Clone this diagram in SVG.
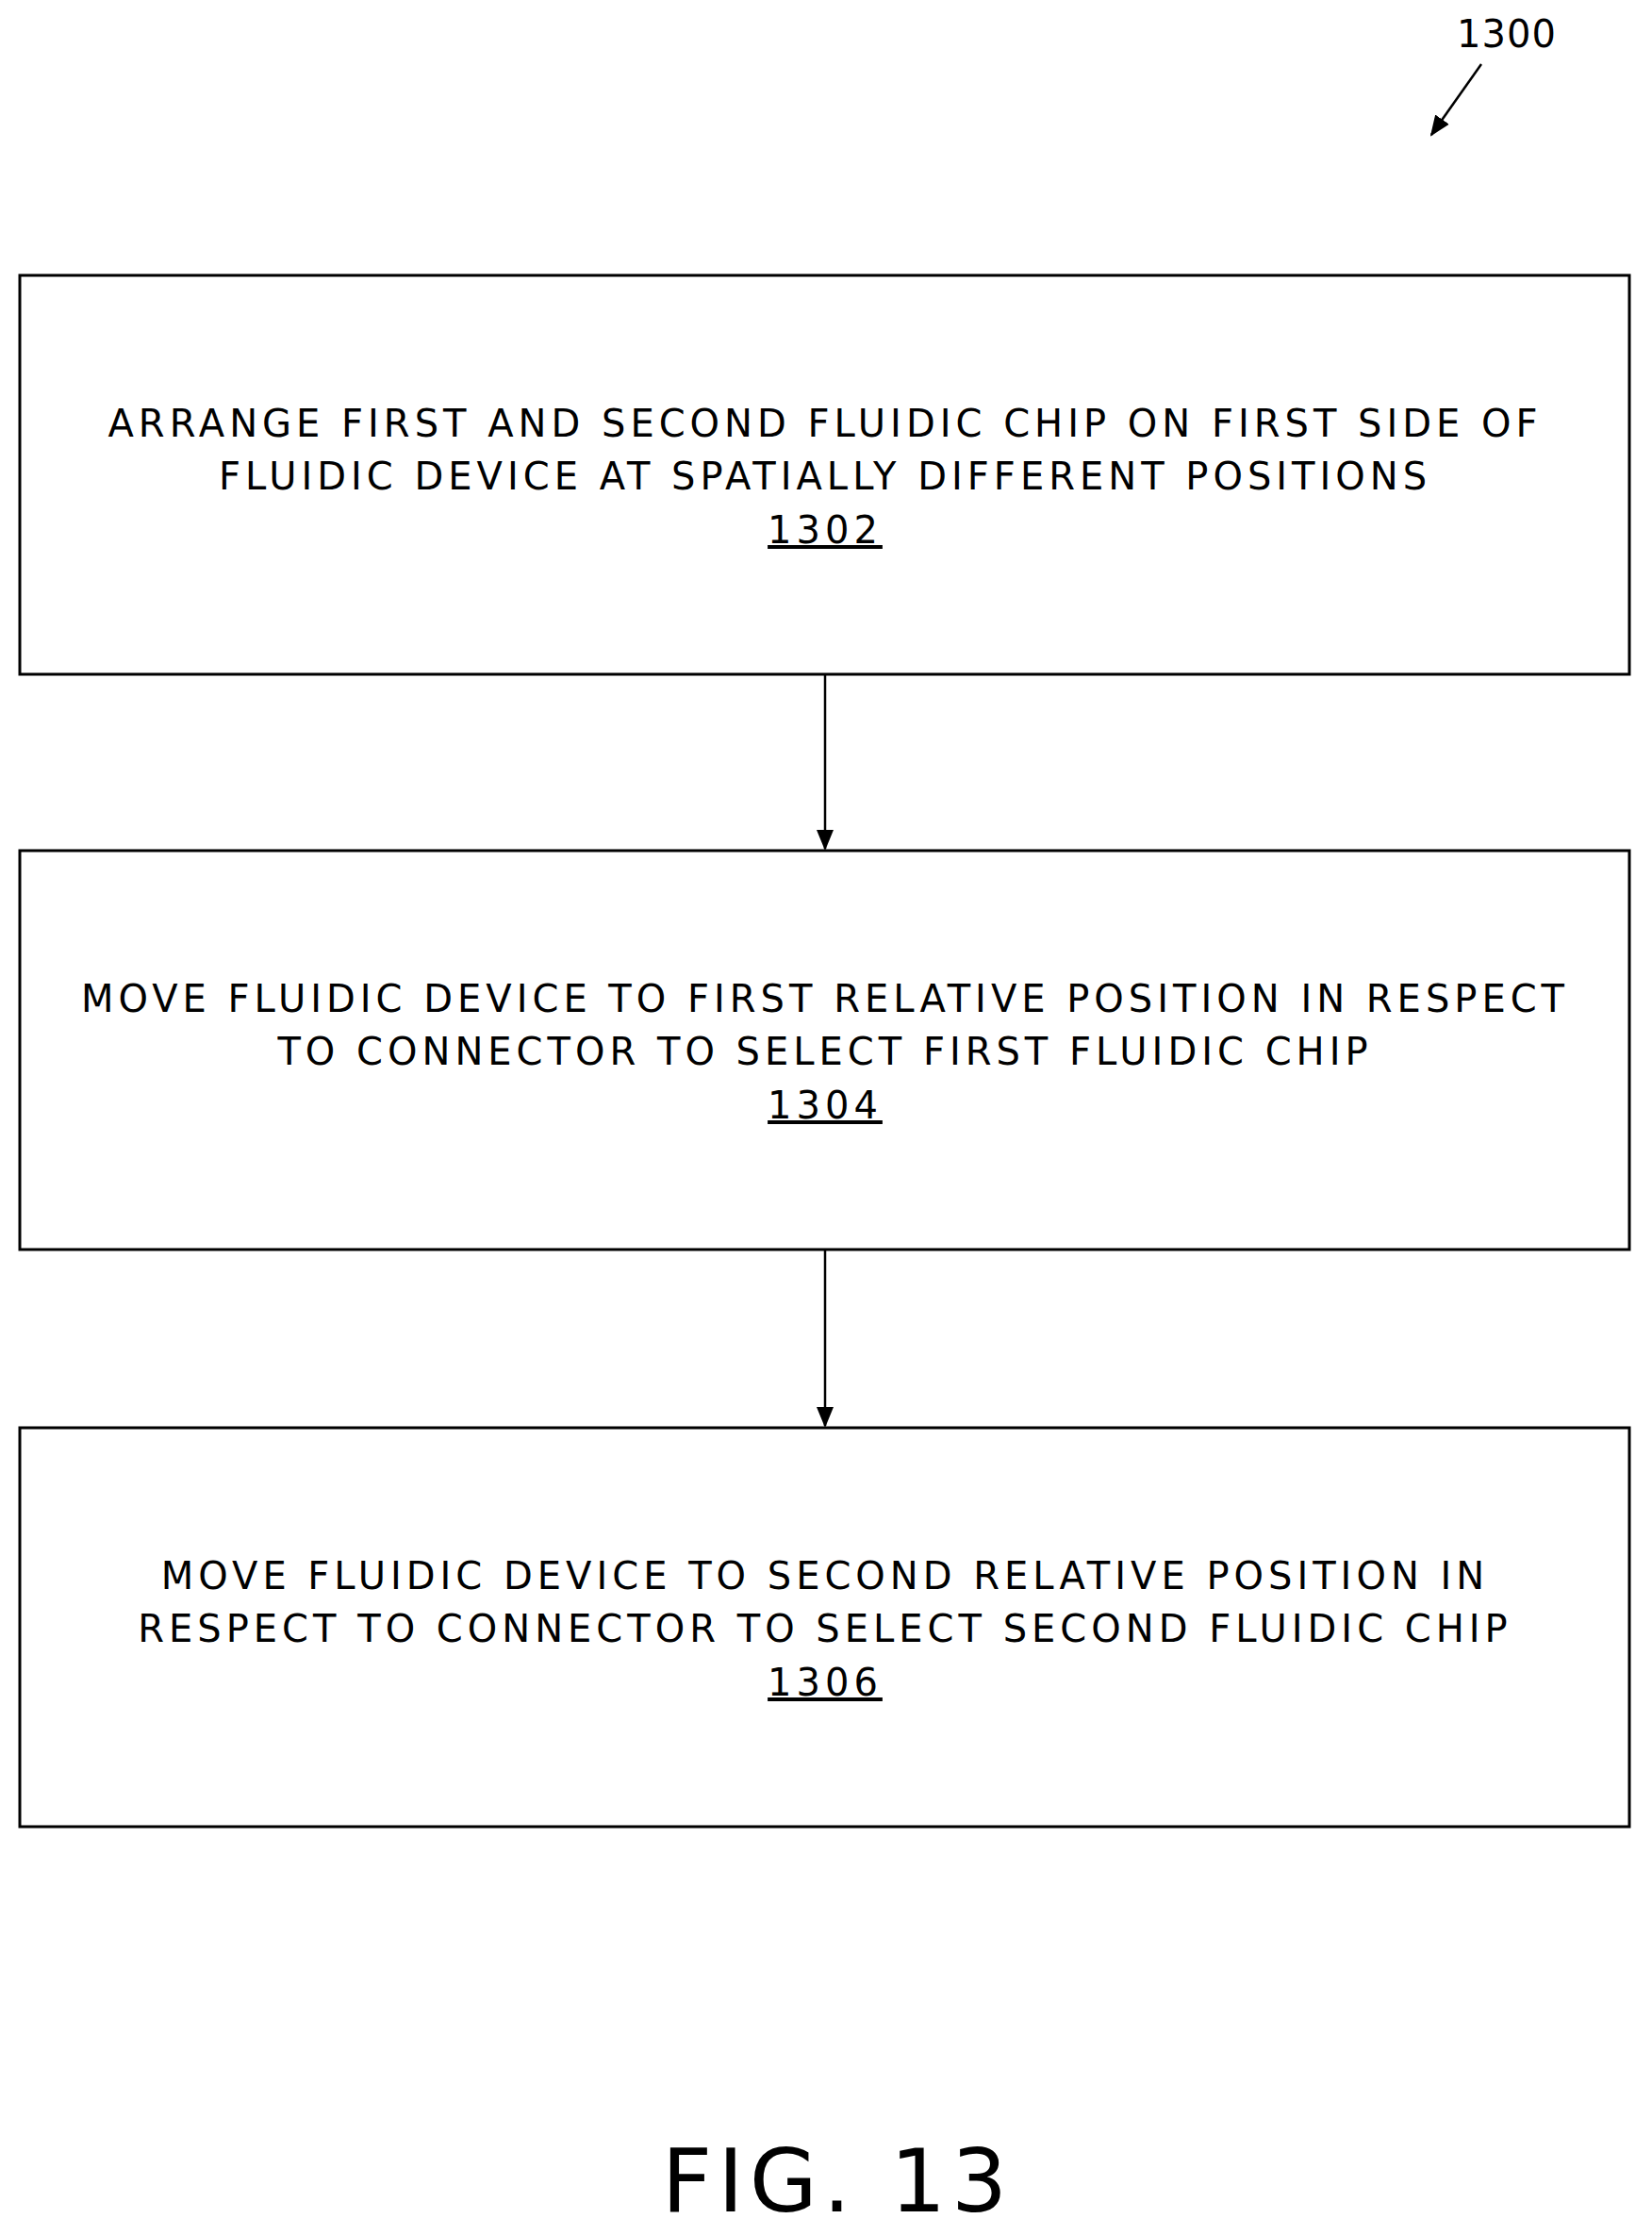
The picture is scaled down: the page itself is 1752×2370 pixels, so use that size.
<svg xmlns="http://www.w3.org/2000/svg" width="1752" height="2370" viewBox="0 0 1752 2370">
<style>
.box{fill:#fff;stroke:#000;stroke-width:3}
text{font-family:"DejaVu Sans",Verdana,sans-serif;font-size:40px;fill:#000;text-anchor:middle;letter-spacing:5px}
.c{stroke:#000;stroke-width:2.5;fill:none}
</style>
<defs>
<marker id="b" markerWidth="22" markerHeight="22" refX="20" refY="11" orient="auto" markerUnits="userSpaceOnUse" viewBox="0 0 22 22"><path d="M0,2L22,11L0,20z" fill="#000"/></marker></defs>
<rect width="1752" height="2370" fill="#fff"/>
<g id="label"><text x="1598" y="50" style="font-size:40px;letter-spacing:1px">1300</text>
<line class="c" x1="1571" y1="68" x2="1518" y2="143" stroke-width="3" marker-end="url(#b)"/></g>
<g id="n1302"><rect class="box" x="21" y="292" width="1707" height="423"/>
<text x="875" y="463">ARRANGE FIRST AND SECOND FLUIDIC CHIP ON FIRST SIDE OF</text>
<text x="875" y="519">FLUIDIC DEVICE AT SPATIALLY DIFFERENT POSITIONS</text>
<text x="875" y="576" text-decoration="underline">1302</text></g>
<g id="n1304"><rect class="box" x="21" y="902" width="1707" height="423"/>
<text x="875" y="1073">MOVE FLUIDIC DEVICE TO FIRST RELATIVE POSITION IN RESPECT</text>
<text x="875" y="1129">TO CONNECTOR TO SELECT FIRST FLUIDIC CHIP</text>
<text x="875" y="1186" text-decoration="underline">1304</text></g>
<g id="n1306"><rect class="box" x="21" y="1514" width="1707" height="423"/>
<text x="875" y="1685">MOVE FLUIDIC DEVICE TO SECOND RELATIVE POSITION IN</text>
<text x="875" y="1741">RESPECT TO CONNECTOR TO SELECT SECOND FLUIDIC CHIP</text>
<text x="875" y="1798" text-decoration="underline">1306</text></g>
<g id="connectors">
<line class="c" x1="875" y1="716" x2="875" y2="900" marker-end="url(#b)"/>
<line class="c" x1="875" y1="1326" x2="875" y2="1512" marker-end="url(#b)"/>
</g>
<text x="888" y="2345" style="font-size:93px;letter-spacing:6px">FIG. 13</text>
</svg>
